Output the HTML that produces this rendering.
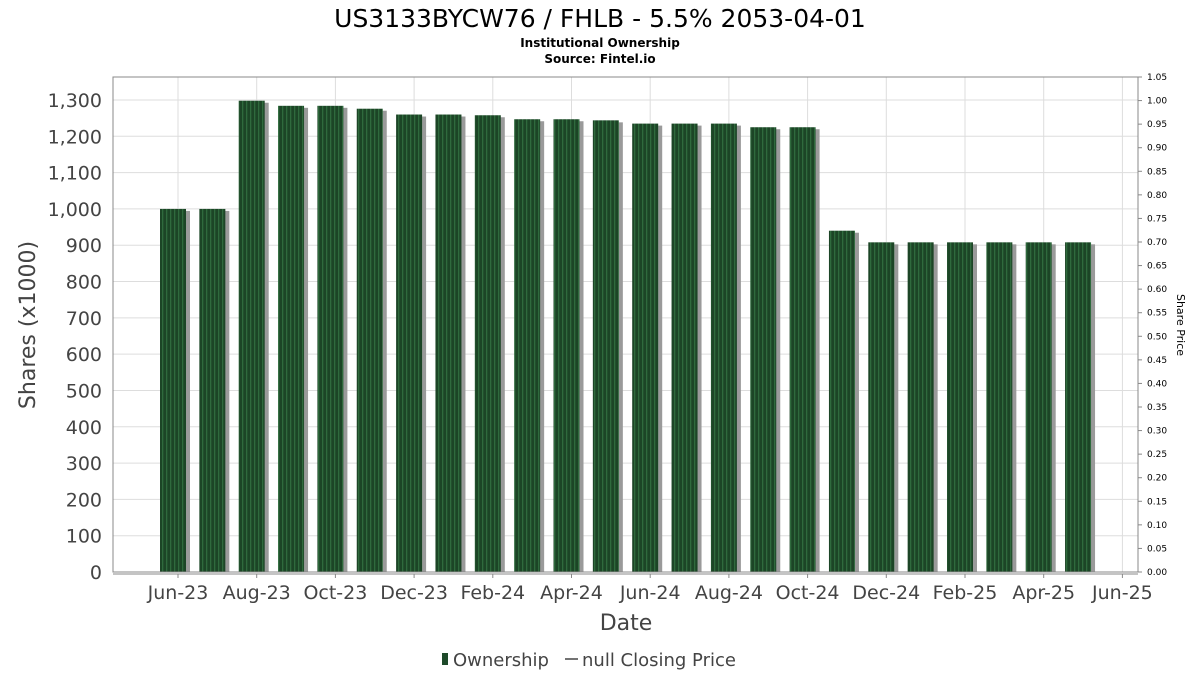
<!DOCTYPE html>
<html><head><meta charset="utf-8"><style>
body{margin:0;background:#fff;font-family:"DejaVu Sans","Liberation Sans",sans-serif;}
</style></head><body>
<svg id="c" width="1200" height="675" xmlns="http://www.w3.org/2000/svg" font-family="DejaVu Sans, Liberation Sans, sans-serif">
<text x="600" y="27" text-anchor="middle" font-size="25" fill="#000">US3133BYCW76 / FHLB - 5.5% 2053-04-01</text>
<text x="600" y="47" text-anchor="middle" font-size="12" font-weight="bold" fill="#000">Institutional Ownership</text>
<text x="600" y="63" text-anchor="middle" font-size="12" font-weight="bold" fill="#000">Source: Fintel.io</text>
<g id="grid"></g>
<g id="bars"></g>
<rect x="113" y="77" width="1025" height="495" fill="none" stroke="#888" stroke-width="1"/>
<g id="axes"></g>
<text transform="translate(35,325) rotate(-90)" text-anchor="middle" font-size="22" fill="#444">Shares (x1000)</text>
<text transform="translate(1177,325) rotate(90)" text-anchor="middle" font-size="11" fill="#000">Share Price</text>
<text x="626" y="630" text-anchor="middle" font-size="22" fill="#444">Date</text>
<g>
<rect x="442" y="653" width="6" height="12" fill="#1e4a2a"/>
<text x="453" y="666" font-size="18" fill="#444">Ownership</text>
<line x1="565" y1="659" x2="578" y2="659" stroke="#444" stroke-width="1.5"/>
<text x="582" y="666" font-size="18" fill="#444">null Closing Price</text>
</g>
</svg>
<script>
const values=[1000,1000,1298,1284,1284,1276,1260,1260,1258,1247,1247,1244,1235,1235,1235,1225,1225,940,908,908,908,908,908,908];
const yTicks=[0,100,200,300,400,500,600,700,800,900,1000,1100,1200,1300];
const y2Ticks=[0,0.05,0.1,0.15,0.2,0.25,0.3,0.35,0.4,0.45,0.5,0.55,0.6,0.65,0.7,0.75,0.8,0.85,0.9,0.95,1.0,1.05];
const xTickLabels=["Jun-23","Aug-23","Oct-23","Dec-23","Feb-24","Apr-24","Jun-24","Aug-24","Oct-24","Dec-24","Feb-25","Apr-25","Jun-25"];
const NS="http://www.w3.org/2000/svg";
const L=113,R=1138,T=77,B=572;
const y=v=>B-v*(B-100)/1300;
const y2=v=>B-v*(B-T)/1.05;
const bx=i=>160+i*39.35;
const tx=i=>178+i*78.7;
function mk(tag,attrs,parent,text){const e=document.createElementNS(NS,tag);for(const k in attrs)e.setAttribute(k,attrs[k]);if(text!==undefined)e.textContent=text;parent.appendChild(e);return e;}
const grid=document.getElementById('grid'),bars=document.getElementById('bars'),axes=document.getElementById('axes');
const defs=mk('defs',{},document.getElementById('c'));
const pat=mk('pattern',{id:'stripe',width:4,height:10,patternUnits:'userSpaceOnUse'},defs);
mk('rect',{x:0,y:0,width:4,height:10,fill:'#1c4526'},pat);
mk('rect',{x:2,y:0,width:1.3,height:10,fill:'#2f6a3d'},pat);
yTicks.forEach(v=>{
  const l=mk('line',{x1:L,x2:R,y1:y(v),y2:y(v),stroke:'#ddd'},grid);
  
  
  const t=mk('text',{x:102,y:y(v)+7,'text-anchor':'end','font-size':19,fill:'#444'},axes,v.toLocaleString('en-US'));
  
  
});
y2Ticks.forEach(v=>{
  const l=mk('line',{x1:R,x2:R+4,y1:y2(v),y2:y2(v),stroke:'#888'},axes);
  
  
  const t=mk('text',{x:R+9,y:y2(v)+3,'font-size':9,fill:'#000'},axes,v.toFixed(2));
  
  
});
xTickLabels.forEach((s,i)=>{
  const l=mk('line',{x1:tx(i),x2:tx(i),y1:T,y2:B,stroke:'#ddd'},grid);
  
  
  const k=mk('line',{x1:tx(i),x2:tx(i),y1:B+2,y2:B+6,stroke:'#888'},axes);
  
  
  const t=mk('text',{x:tx(i),y:599,'text-anchor':'middle','font-size':19,fill:'#444'},axes,s);
  
  
});
mk('line',{x1:L,x2:R,y1:B+2,y2:B+2,stroke:'#888'},axes);
values.forEach((v,i)=>{
  const sh=mk('rect',{x:bx(i)+3,y:y(v)+2,width:27,height:B-y(v)-2,fill:'#9a9a9a'},bars);
  
  
  const r=mk('rect',{x:bx(i),y:y(v),width:26,height:B-y(v),fill:'url(#stripe)'},bars);
  
  
});
</script>
</body></html>
